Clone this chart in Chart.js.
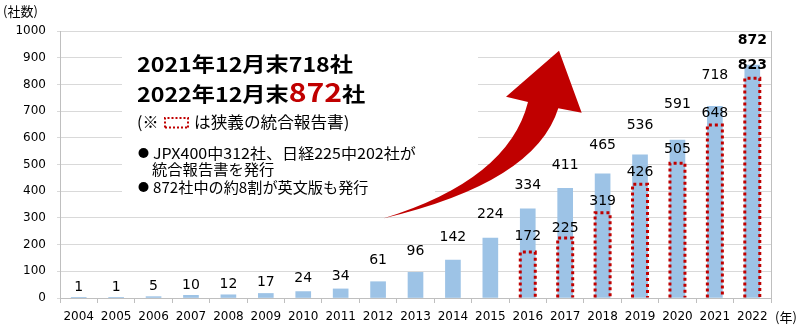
<!DOCTYPE html>
<html lang="ja">
<head>
<meta charset="utf-8">
<title>統合報告書発行企業数の推移</title>
<script src="https://cdn.jsdelivr.net/npm/chart.js@4/dist/chart.umd.min.js"></script>
<style>
  html, body { margin: 0; padding: 0; background: #fff; }
  #wrap { width: 800px; height: 326px; }
</style>
</head>
<body>
<div id="wrap"><canvas id="reportChart" width="800" height="326"></canvas></div>
<script>
const years = ['2004', '2005', '2006', '2007', '2008', '2009', '2010', '2011', '2012', '2013',
               '2014', '2015', '2016', '2017', '2018', '2019', '2020', '2021', '2022'];
const totalCompanies = [1, 1, 5, 10, 12, 17, 24, 34, 61, 96, 142, 224, 334, 411, 465, 536, 591, 718, 872];
const narrowReports = [null, null, null, null, null, null, null, null, null, null, null, null,
                       172, 225, 319, 426, 505, 648, 823];
const yTicks = [0, 100, 200, 300, 400, 500, 600, 700, 800, 900, 1000];

// how far (px) each value label sits above its bar top
const totalLabelLift = [10, 10, 10, 10, 10, 11, 13, 13, 21, 21, 23, 24, 23, 23, 28, 30, 36, 31, 25];
const narrowLabelLift = [0, 0, 0, 0, 0, 0, 0, 0, 0, 0, 0, 0, 16, 10, 11, 12, 14, 12, 13];

const BLUE = '#9dc3e6';
const RED = '#c00000';
const JP = '"Noto Sans CJK JP", "Noto Sans", sans-serif';
const NUM = '"DejaVu Sans", Verdana, sans-serif';

Chart.defaults.font.family = NUM;
Chart.defaults.color = '#000';

function dottedBox(ctx, l, t, r, b, width) {
  ctx.save();
  ctx.strokeStyle = RED;
  ctx.lineWidth = width;
  ctx.setLineDash([width, width]);
  ctx.beginPath();
  ctx.moveTo(l, b);
  ctx.lineTo(l, t);
  ctx.lineTo(r, t);
  ctx.lineTo(r, b);
  ctx.stroke();
  ctx.restore();
}

// text drawn a little wider than the font's own proportions
function wideText(ctx, text, x, y, stretch) {
  ctx.save();
  ctx.translate(x, y);
  ctx.scale(stretch, 1);
  ctx.fillText(text, 0, 0);
  const w = ctx.measureText(text).width * stretch;
  ctx.restore();
  return w;
}

function bullet(ctx, x, y) {
  ctx.beginPath();
  ctx.arc(x + 5.5, y, 5, 0, Math.PI * 2);
  ctx.fill();
}

// white panel behind the note text (hides the grid there)
const notePanel = {
  id: 'notePanel',
  beforeDatasetsDraw(chart) {
    const ctx = chart.ctx;
    ctx.save();
    ctx.fillStyle = '#fff';
    ctx.fillRect(122, 36, 356, 142);
    ctx.fillRect(122, 178, 313, 27);
    ctx.restore();
  }
};

// dotted red outline for the narrow-definition reports + value labels
const barMarks = {
  id: 'barMarks',
  afterDatasetsDraw(chart) {
    const ctx = chart.ctx;
    const narrowMeta = chart.getDatasetMeta(1);
    narrowMeta.data.forEach((bar, i) => {
      if (narrowReports[i] == null) return;
      const p = bar.getProps(['x', 'y', 'base', 'width'], true);
      dottedBox(ctx, p.x - p.width / 2, p.y, p.x + p.width / 2, p.base, 3);
    });

    ctx.save();
    ctx.textAlign = 'center';
    ctx.textBaseline = 'middle';
    ctx.fillStyle = '#000';
    const last = years.length - 1;
    const totalMeta = chart.getDatasetMeta(0);
    totalMeta.data.forEach((bar, i) => {
      ctx.font = (i === last ? 'bold ' : '') + '14px ' + NUM;
      ctx.fillText(String(totalCompanies[i]), bar.x, bar.y - totalLabelLift[i]);
    });
    narrowMeta.data.forEach((bar, i) => {
      if (narrowReports[i] == null) return;
      ctx.font = (i === last ? 'bold ' : '') + '14px ' + NUM;
      ctx.fillText(String(narrowReports[i]), bar.x, bar.y - narrowLabelLift[i]);
    });
    ctx.restore();
  }
};

// frame, unit captions, growth arrow and note text
const decorations = {
  id: 'decorations',
  afterDraw(chart) {
    const ctx = chart.ctx;
    const area = chart.chartArea;
    ctx.save();

    ctx.strokeStyle = '#bfbfbf';
    ctx.lineWidth = 1;
    ctx.beginPath();
    ctx.moveTo(area.right + 0.5, area.top);
    ctx.lineTo(area.right + 0.5, area.bottom + 5);
    ctx.stroke();

    ctx.fillStyle = '#000';
    ctx.textBaseline = 'middle';
    ctx.textAlign = 'left';
    ctx.font = '13px ' + JP;
    ctx.fillText('(社数)', 3, 11);
    ctx.fillText('(年)', area.right + 4, 317);

    // curved arrow
    ctx.fillStyle = RED;
    ctx.beginPath();
    ctx.moveTo(383, 218.5);
    ctx.quadraticCurveTo(508.5, 179.8, 528, 102);
    ctx.lineTo(506, 96.7);
    ctx.lineTo(559, 50.7);
    ctx.lineTo(581.7, 112.7);
    ctx.lineTo(558.3, 108.3);
    ctx.quadraticCurveTo(535.3, 182.6, 383, 218.5);
    ctx.closePath();
    ctx.fill();

    // headline
    ctx.fillStyle = '#000';
    ctx.textBaseline = 'alphabetic';
    ctx.font = 'bold 20px ' + JP;
    wideText(ctx, '2021年12月末718社', 137, 72, 1.16);
    let x = 137;
    x += wideText(ctx, '2022年12月末', x, 101.5, 1.16);
    ctx.font = 'bold 26px ' + JP;
    ctx.fillStyle = RED;
    x += wideText(ctx, '872', x, 101.5, 1.16);
    ctx.font = 'bold 20px ' + JP;
    ctx.fillStyle = '#000';
    wideText(ctx, '社', x, 101.5, 1.16);

    // legend note
    ctx.textBaseline = 'middle';
    ctx.font = '16px ' + JP;
    ctx.fillText('(※', 137, 122);
    dottedBox(ctx, 165, 118, 188, 127.5, 2);
    ctx.beginPath();
    ctx.strokeStyle = RED;
    ctx.lineWidth = 2;
    ctx.setLineDash([2, 2]);
    ctx.moveTo(165, 127.5);
    ctx.lineTo(188, 127.5);
    ctx.stroke();
    ctx.setLineDash([]);
    wideText(ctx, 'は狭義の統合報告書)', 194, 122, 1.04);

    ctx.font = '15px ' + JP;
    bullet(ctx, 138, 153);
    wideText(ctx, 'JPX400中312社、日経225中202社が', 153, 153, 1.07);
    wideText(ctx, '統合報告書を発行', 152, 169, 1.02);
    bullet(ctx, 138, 187);
    wideText(ctx, '872社中の約8割が英文版も発行', 153, 187, 1.01);

    ctx.restore();
  }
};

new Chart(document.getElementById('reportChart'), {
  type: 'bar',
  data: {
    labels: years,
    datasets: [
      {
        label: '統合報告書発行企業数',
        data: totalCompanies,
        backgroundColor: BLUE,
        barThickness: 15,
        grouped: false,
        order: 2
      },
      {
        label: '狭義の統合報告書',
        data: narrowReports,
        backgroundColor: 'rgba(0,0,0,0)',
        barThickness: 15,
        grouped: false,
        order: 1
      }
    ]
  },
  options: {
    responsive: false,
    animation: false,
    devicePixelRatio: 1,
    layout: { padding: { top: 31, right: 29, left: 0, bottom: 0 } },
    plugins: {
      legend: { display: false },
      tooltip: { enabled: false }
    },
    scales: {
      x: {
        offset: true,
        grid: {
          offset: true,
          drawOnChartArea: false,
          tickLength: 5,
          color: '#bfbfbf'
        },
        border: { color: '#bfbfbf' },
        ticks: {
          font: { size: 12 },
          color: '#000',
          padding: 7,
          maxRotation: 0,
          autoSkip: false
        },
        afterFit(scale) { scale.height = 28; }
      },
      y: {
        min: 0,
        max: 1000,
        afterBuildTicks(scale) { scale.ticks = yTicks.map(v => ({ value: v })); },
        grid: { color: '#d9d9d9', tickLength: 3 },
        border: { color: '#bfbfbf' },
        ticks: {
          font: { size: 12 },
          color: '#000',
          padding: 11,
          callback: v => String(v)
        },
        afterFit(scale) { scale.width = 60; }
      }
    }
  },
  plugins: [notePanel, barMarks, decorations]
});
</script>
</body>
</html>
